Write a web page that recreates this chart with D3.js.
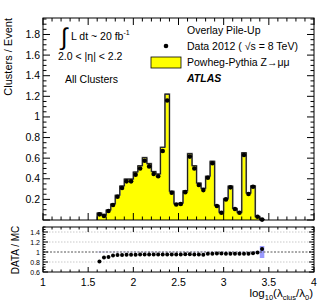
<!DOCTYPE html>
<html>
<head>
<meta charset="UTF-8">
<script src="https://cdn.jsdelivr.net/npm/d3@7"></script>
<style>
  body { margin: 0; background: #fff; }
  svg { font-family: "Liberation Sans", Arial, sans-serif; }
</style>
</head>
<body>
<div id="chart"></div>
<script>
// bins in log10(lambda_clus/lambda_0), width 0.05
const binWidth = 0.05;
const binLow = d3.range(37).map(i => +(1.6 + i * binWidth).toFixed(2));

// data points (clusters / event)
const dataVals = [0.055, 0.04, 0.087, 0.145, 0.226, 0.31, 0.375, 0.375, 0.44, 0.50,
  0.575, 0.52, 0.447, 0.424, 0.67, 1.16, 0.265, 0.15, 0.155, 0.27,
  0.615, 0.50, 0.34, 0.29, 0.41, 0.55, 0.136, 0.071, 0.20, 0.317,
  0.107, 0.071, 0.63, 0.252, 0.323, 0.032, 0.004];

// data / MC ratio
const ratioVals = [0.81, 0.89, 0.90, 0.93, 0.94, 0.94, 0.945, 0.945, 0.945, 0.95,
  0.95, 0.95, 0.95, 0.95, 0.95, 0.95, 0.95, 0.95, 0.95, 0.955,
  0.955, 0.95, 0.95, 0.945, 0.965, 0.965, 0.97, 0.97, 0.965, 0.965,
  0.965, 0.965, 0.965, 0.965, 0.975, 0.99, 1.06];
// MC stat band half-width in ratio
const bandErr = [0.004, 0.004, 0.003, 0.003, 0.003, 0.003, 0.003, 0.003, 0.003, 0.003,
  0.003, 0.003, 0.003, 0.003, 0.003, 0.003, 0.003, 0.003, 0.003, 0.003,
  0.003, 0.003, 0.003, 0.003, 0.003, 0.003, 0.003, 0.003, 0.003, 0.003,
  0.003, 0.003, 0.003, 0.003, 0.004, 0.01, 0.12];

const xMajor = [1, 1.5, 2, 2.5, 3, 3.5, 4];
const yMainTicks = [0.2, 0.4, 0.6, 0.8, 1, 1.2, 1.4, 1.6, 1.8];
const yRatioTicks = [0.6, 0.8, 1, 1.2, 1.4];

const mcVals = dataVals.map((d, i) => d / ratioVals[i]);

const W = 329, H = 305;
const svg = d3.select("#chart").append("svg").attr("width", W).attr("height", H);

const left = 43, right = 314;
const main = {top: 18, bottom: 220};
const rat = {top: 227, bottom: 272};

const x = d3.scaleLinear().domain([1, 4]).range([left, right]);
const y = d3.scaleLinear().domain([0, 1.96]).range([main.bottom, main.top]);
const yr = d3.scaleLinear().domain([0.6, 1.5]).range([rat.bottom, rat.top]);

// ---- main panel ----
const steps = mcVals.map((v, i) => [binLow[i], v]);
steps.push([binLow[binLow.length - 1] + binWidth, mcVals[mcVals.length - 1]]);

const area = d3.area()
  .curve(d3.curveStepAfter)
  .x(d => x(d[0]))
  .y0(y(0))
  .y1(d => y(d[1]));
svg.append("path").datum(steps).attr("d", area).attr("fill", "#ffff00");

const outline = d3.line().curve(d3.curveStepAfter).x(d => x(d[0])).y(d => y(d[1]));
const stepsClosed = [[binLow[0], 0]].concat(steps).concat([[steps[steps.length - 1][0], 0]]);
svg.append("path").datum(stepsClosed)
  .attr("d", d3.line().x(d => x(d[0])).y(d => y(d[1])).curve(d3.curveLinear)(
    // expand step points manually to vertical/horizontal segments
    stepsClosed.flatMap((p, i) => i === 0 ? [p] : [[p[0], stepsClosed[i - 1][1]], p])
  ))
  .attr("fill", "none").attr("stroke", "#777").attr("stroke-width", 1.6);
svg.append("path").datum(stepsClosed)
  .attr("d", d3.line().x(d => x(d[0])).y(d => y(d[1]))(
    stepsClosed.flatMap((p, i) => i === 0 ? [p] : [[p[0], stepsClosed[i - 1][1]], p])
  ))
  .attr("fill", "none").attr("stroke", "#111").attr("stroke-width", 0.9);

svg.append("g").selectAll("circle")
  .data(dataVals)
  .join("circle")
  .attr("cx", (d, i) => x(binLow[i] + binWidth / 2))
  .attr("cy", d => y(d))
  .attr("r", 2.3)
  .attr("fill", "#000");

// frame + ticks for a panel
function frame(yScale, top, bottom, yMinorStep, yMin, yMax, tickLen) {
  const g = svg.append("g").attr("stroke", "#000").attr("stroke-width", 1);
  g.append("rect").attr("x", left).attr("y", top).attr("width", right - left)
    .attr("height", bottom - top).attr("fill", "none");
  // x ticks
  const xMinor = d3.range(1, 4.001, 0.1);
  xMinor.forEach(v => {
    const major = Math.abs(v * 2 - Math.round(v * 2)) < 1e-6;
    const len = major ? tickLen : tickLen / 2;
    const px = x(v);
    g.append("line").attr("x1", px).attr("x2", px).attr("y1", bottom).attr("y2", bottom - len);
    g.append("line").attr("x1", px).attr("x2", px).attr("y1", top).attr("y2", top + len);
  });
  // y ticks
  const yMinorVals = d3.range(yMin, yMax + 1e-6, yMinorStep);
  yMinorVals.forEach(v => {
    const major = Math.abs(v / (yMinorStep * 4) - Math.round(v / (yMinorStep * 4))) < 1e-6;
    const len = major ? tickLen : tickLen / 2;
    const py = yScale(v);
    g.append("line").attr("x1", left).attr("x2", left + len).attr("y1", py).attr("y2", py);
    g.append("line").attr("x1", right).attr("x2", right - len).attr("y1", py).attr("y2", py);
  });
  return g;
}

frame(y, main.top, main.bottom, 0.05, 0, 1.95, 7);

svg.append("g").selectAll("text")
  .data(yMainTicks)
  .join("text")
  .attr("x", left - 3)
  .attr("y", d => y(d) + 3.5)
  .attr("text-anchor", "end")
  .attr("font-size", 10.5)
  .text(d => d);

// ---- ratio panel ----
const rg = svg.append("g");
[0.8, 1.2, 1.4].forEach(v => {
  rg.append("line").attr("x1", left).attr("x2", right).attr("y1", yr(v)).attr("y2", yr(v))
    .attr("stroke", "#bbb").attr("stroke-width", 0.8).attr("stroke-dasharray", "1.5,1.5");
});

rg.selectAll("rect.band")
  .data(bandErr)
  .join("rect")
  .attr("class", "band")
  .attr("x", (d, i) => x(binLow[i]))
  .attr("width", x(binWidth) - x(0))
  .attr("y", d => yr(1 + d))
  .attr("height", d => yr(1 - d) - yr(1 + d))
  .attr("fill", "#9a9aff");

rg.append("line").attr("x1", left).attr("x2", right).attr("y1", yr(1)).attr("y2", yr(1))
  .attr("stroke", "#555").attr("stroke-width", 1).attr("stroke-dasharray", "2,1.5");

rg.selectAll("circle")
  .data(ratioVals)
  .join("circle")
  .attr("cx", (d, i) => x(binLow[i] + binWidth / 2))
  .attr("cy", d => yr(d))
  .attr("r", 2)
  .attr("fill", "#000");

frame(yr, rat.top, rat.bottom, 0.05, 0.6, 1.5, 5);

svg.append("g").selectAll("text")
  .data(yRatioTicks)
  .join("text")
  .attr("x", left - 3)
  .attr("y", d => yr(d) + 2.5)
  .attr("text-anchor", "end")
  .attr("font-size", 7)
  .text(d => d);

svg.append("g").selectAll("text")
  .data(xMajor)
  .join("text")
  .attr("x", d => x(d))
  .attr("y", 286)
  .attr("text-anchor", "middle")
  .attr("font-size", 10.5)
  .text(d => d);

// ---- axis titles ----
svg.append("text")
  .attr("transform", "translate(12,18) rotate(-90)")
  .attr("text-anchor", "end")
  .attr("font-size", 11)
  .text("Clusters / Event");

svg.append("text")
  .attr("transform", "translate(19,250) rotate(-90)")
  .attr("text-anchor", "middle")
  .attr("font-size", 10)
  .text("DATA / MC");

const xt = svg.append("text").attr("x", 313).attr("y", 297).attr("text-anchor", "end").attr("font-size", 11.5);
xt.append("tspan").text("log");
xt.append("tspan").attr("font-size", 7.5).attr("dy", 3).text("10");
xt.append("tspan").attr("dy", -3).text("(λ");
xt.append("tspan").attr("font-size", 7.5).attr("dy", 3).text("clus");
xt.append("tspan").attr("dy", -3).text("/λ");
xt.append("tspan").attr("font-size", 7.5).attr("dy", 3).text("0");
xt.append("tspan").attr("dy", -3).text(")");

// ---- labels ----
svg.append("text").attr("x", 61).attr("y", 45).attr("font-size", 24).attr("font-weight", 300).text("∫");
const lum = svg.append("text").attr("x", 71).attr("y", 40).attr("font-size", 10.5);
lum.append("tspan").text("L dt ~ 20 fb");
lum.append("tspan").attr("font-size", 7).attr("dy", -5).text("-1");

svg.append("text").attr("x", 58).attr("y", 60).attr("font-size", 10.5).text("2.0 < |η| < 2.2");
svg.append("text").attr("x", 65).attr("y", 83).attr("font-size", 10.5).text("All Clusters");

// legend
const lx = 187;
svg.append("text").attr("x", lx).attr("y", 34).attr("font-size", 10.5).text("Overlay Pile-Up");
svg.append("circle").attr("cx", 166).attr("cy", 46).attr("r", 2.3).attr("fill", "#000");
svg.append("text").attr("x", lx).attr("y", 50).attr("font-size", 10.5).text("Data 2012 ( √s = 8 TeV)");
svg.append("rect").attr("x", 151).attr("y", 57).attr("width", 30).attr("height", 11)
  .attr("fill", "#ffff00").attr("stroke", "#000").attr("stroke-width", 0.8);
svg.append("text").attr("x", lx).attr("y", 66).attr("font-size", 10.5).text("Powheg-Pythia Z→μμ");
svg.append("text").attr("x", lx).attr("y", 82).attr("font-size", 10.5)
  .attr("font-weight", "bold").attr("font-style", "italic").text("ATLAS");
</script>
</body>
</html>
